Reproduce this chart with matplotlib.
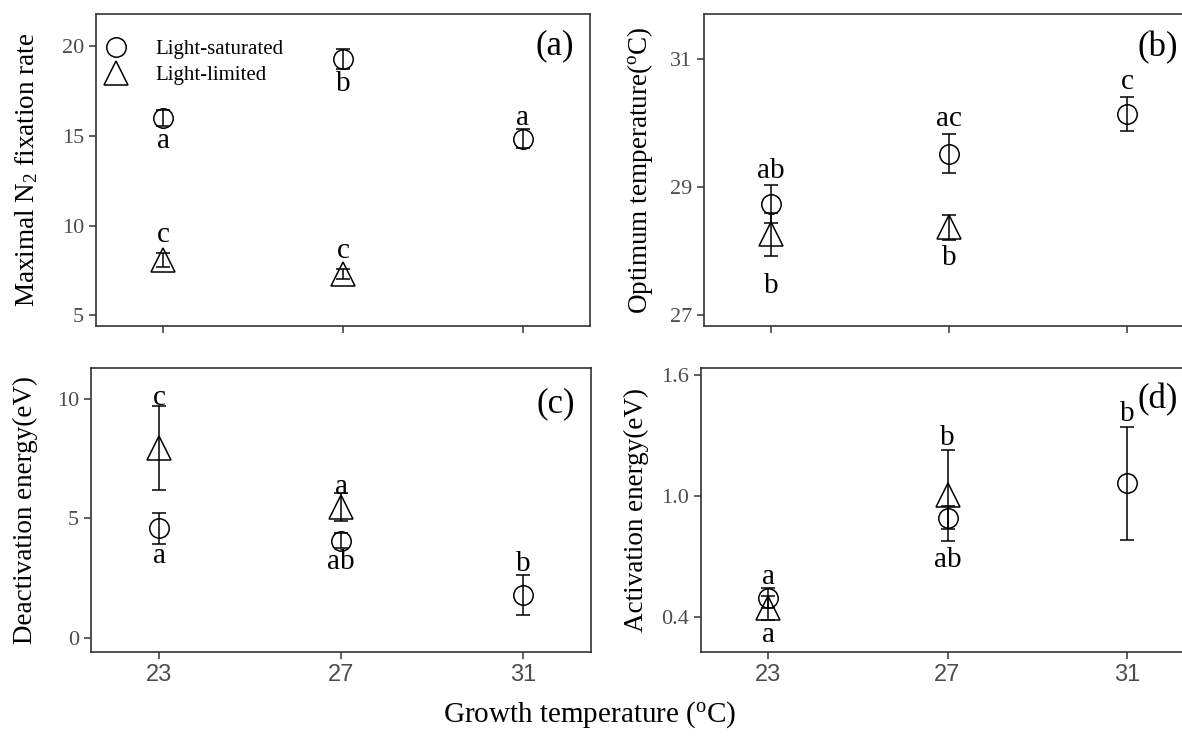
import matplotlib
matplotlib.use("Agg")
import matplotlib.pyplot as plt
from matplotlib.lines import Line2D

plt.rcParams["font.family"] = "Liberation Serif"
plt.rcParams["mathtext.fontset"] = "custom"
plt.rcParams["mathtext.rm"] = "Liberation Serif"
plt.rcParams["mathtext.it"] = "Liberation Serif:italic"

# growth temperatures
temps = [23, 27, 31]
temps_lim = [23, 27]

# (a) maximal N2 fixation rate
a_sat = [16.0, 19.3, 14.85]
a_sat_err = [0.45, 0.55, 0.55]
a_lim = [8.07, 7.32]
a_lim_err = [0.4, 0.28]
a_sat_letters = ["a", "b", "a"]
a_sat_letter_y = [14.7, 17.9, 16.0]
a_lim_letters = ["c", "c"]
a_lim_letter_y = [9.5, 8.6]

# (b) optimum temperature
b_sat = [28.73, 29.52, 30.14]
b_sat_err = [0.3, 0.3, 0.27]
b_lim = [28.26, 28.37]
b_lim_err = [0.33, 0.2]
b_sat_letters = ["ab", "ac", "c"]
b_sat_letter_y = [29.25, 30.06, 30.64]
b_lim_letters = ["b", "b"]
b_lim_letter_y = [27.45, 27.89]

# (c) deactivation energy
c_sat = [4.58, 4.07, 1.80]
c_sat_err = [0.66, 0.3, 0.83]
c_lim = [7.94, 5.48]
c_lim_err = [1.75, 0.57]
c_sat_letters = ["a", "ab", "b"]
c_sat_letter_y = [3.44, 3.16, 3.09]
c_lim_letters = ["c", "a"]
c_lim_letter_y = [10.04, 6.32]

# (d) activation energy
d_sat = [0.493, 0.892, 1.062]
d_sat_err = [0.05, 0.058, 0.28]
d_lim = [0.445, 1.003]
d_lim_err = [0.06, 0.225]
d_sat_letters = ["a", "ab", "b"]
d_sat_letter_y = [0.595, 0.682, 1.407]
d_lim_letters = ["a", "b"]
d_lim_letter_y = [0.307, 1.287]

W, H = 1182, 742
fig = plt.figure(figsize=(W / 100, H / 100), dpi=100)


def add_ax(l, t, r, b):
    return fig.add_axes([l / W, 1 - b / H, (r - l) / W, (b - t) / H])


ax_a = add_ax(96, 14, 590, 326)
ax_b = add_ax(704, 14, 1194, 326)
ax_c = add_ax(91, 368, 591, 652)
ax_d = add_ax(701, 368, 1194, 652)

gray = "#4d4d4d"
frame = "#333333"


def panel(ax, sat, sat_err, lim, lim_err, sat_lt, sat_ly, lim_lt, lim_ly,
          ylim, yticks, yticklabels, ylabel, tag, tag_y, xlabels):
    ax.errorbar(temps, sat, yerr=sat_err, fmt="o", ms=14, mfc="none",
                mec="black", mew=1.1, ecolor="black", elinewidth=1.1,
                capsize=5, capthick=1.1)
    ax.errorbar(temps_lim, lim, yerr=lim_err, fmt="^", ms=17, mfc="none",
                mec="black", mew=1.1, ecolor="black", elinewidth=1.1,
                capsize=5, capthick=1.1)
    for x, y, s in zip(temps, sat_ly, sat_lt):
        ax.text(x, y, s, ha="center", va="center", fontsize=21)
    for x, y, s in zip(temps_lim, lim_ly, lim_lt):
        ax.text(x, y, s, ha="center", va="center", fontsize=21)
    ax.text(32.15, tag_y, tag, ha="right", va="center", fontsize=25)
    ax.set_xlim(21.5, 32.5)
    ax.set_ylim(*ylim)
    ax.set_xticks(temps)
    if xlabels:
        ax.set_xticklabels([str(t) for t in temps], fontfamily="Liberation Sans",
                           fontsize=17, color=gray)
    else:
        ax.set_xticklabels([])
    ax.set_yticks(yticks)
    ax.set_yticklabels(yticklabels, fontsize=16, color=gray)
    ax.set_ylabel(ylabel, fontsize=19.5)
    ax.tick_params(direction="out", length=5, width=1.1, color=frame)
    for sp in ax.spines.values():
        sp.set_color(frame)
        sp.set_linewidth(1.2)


panel(ax_a, a_sat, a_sat_err, a_lim, a_lim_err, a_sat_letters, a_sat_letter_y,
      a_lim_letters, a_lim_letter_y, (4.4, 21.8), [5, 10, 15, 20],
      ["5", "10", "15", "20"], r"Maximal N$_2$ fixation rate", "(a)", 20.05, False)
panel(ax_b, b_sat, b_sat_err, b_lim, b_lim_err, b_sat_letters, b_sat_letter_y,
      b_lim_letters, b_lim_letter_y, (26.83, 31.7), [27, 29, 31],
      ["27", "29", "31"], r"Optimum temperature($^{\rm o}$C)", "(b)", 31.18, False)
panel(ax_c, c_sat, c_sat_err, c_lim, c_lim_err, c_sat_letters, c_sat_letter_y,
      c_lim_letters, c_lim_letter_y, (-0.6, 11.3), [0, 5, 10],
      ["0", "5", "10"], "Deactivation energy(eV)", "(c)", 9.8, True)
panel(ax_d, d_sat, d_sat_err, d_lim, d_lim_err, d_sat_letters, d_sat_letter_y,
      d_lim_letters, d_lim_letter_y, (0.225, 1.635), [0.4, 1.0, 1.6],
      ["0.4", "1.0", "1.6"], "Activation energy(eV)", "(d)", 1.478, True)

for ax, xl in [(ax_a, -0.14), (ax_b, -0.131), (ax_c, -0.132), (ax_d, -0.13)]:
    ax.yaxis.set_label_coords(xl, 0.5)
    ax.yaxis.label.set_va("center")

handles = [
    Line2D([], [], ls="none", marker="o", ms=14, mfc="none", mec="black", mew=1.1),
    Line2D([], [], ls="none", marker="^", ms=17, mfc="none", mec="black", mew=1.1),
]
ax_a.legend(handles, ["Light-saturated", "Light-limited"], loc="upper left",
            bbox_to_anchor=(-0.032, 0.965), frameon=False, fontsize=15,
            handletextpad=0.9, labelspacing=0.3, borderaxespad=0.3)

fig.text(590 / W, 1 - 715 / H, r"Growth temperature ($^{\rm o}$C)",
         ha="center", va="center", fontsize=21)

fig.savefig("out.png", dpi=100)
